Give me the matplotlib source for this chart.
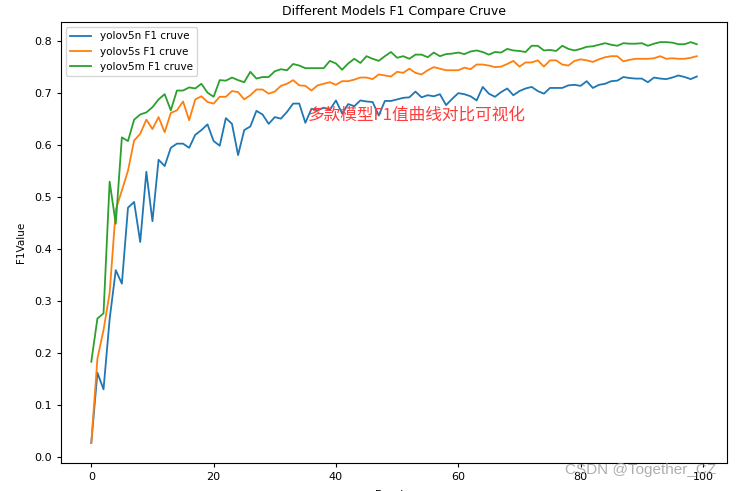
import matplotlib.pyplot as plt
import numpy as np

### DATA

epochs = list(range(100))

yolov5n_f1 = [0.027, 0.162, 0.130, 0.265, 0.359, 0.333, 0.479, 0.490, 0.413, 0.548,
              0.453, 0.571, 0.559, 0.594, 0.602, 0.602, 0.594, 0.619, 0.628, 0.639,
              0.607, 0.598, 0.651, 0.640, 0.580, 0.628, 0.635, 0.665, 0.658, 0.640,
              0.653, 0.650, 0.663, 0.679, 0.679, 0.642, 0.669, 0.666, 0.671, 0.667,
              0.685, 0.660, 0.678, 0.674, 0.685, 0.683, 0.682, 0.656, 0.684, 0.684,
              0.687, 0.690, 0.691, 0.702, 0.691, 0.695, 0.693, 0.697, 0.676, 0.688,
              0.699, 0.697, 0.693, 0.685, 0.711, 0.698, 0.692, 0.701, 0.708, 0.695,
              0.703, 0.708, 0.711, 0.703, 0.698, 0.709, 0.709, 0.709, 0.714, 0.715,
              0.713, 0.722, 0.709, 0.715, 0.717, 0.722, 0.723, 0.730, 0.728, 0.727,
              0.727, 0.720, 0.729, 0.727, 0.726, 0.729, 0.733, 0.730, 0.726, 0.731]

yolov5s_f1 = [0.027, 0.189, 0.244, 0.315, 0.475, 0.512, 0.550, 0.608, 0.621, 0.648,
              0.630, 0.653, 0.624, 0.661, 0.666, 0.683, 0.647, 0.687, 0.693, 0.682,
              0.679, 0.692, 0.692, 0.703, 0.701, 0.687, 0.695, 0.706, 0.706, 0.698,
              0.702, 0.713, 0.717, 0.724, 0.714, 0.713, 0.704, 0.714, 0.717, 0.720,
              0.715, 0.722, 0.722, 0.725, 0.729, 0.729, 0.726, 0.735, 0.733, 0.731,
              0.740, 0.738, 0.746, 0.738, 0.735, 0.743, 0.749, 0.746, 0.743, 0.743,
              0.743, 0.748, 0.745, 0.754, 0.754, 0.752, 0.749, 0.750, 0.755, 0.761,
              0.750, 0.758, 0.758, 0.762, 0.750, 0.762, 0.762, 0.754, 0.752, 0.761,
              0.764, 0.762, 0.759, 0.764, 0.768, 0.770, 0.770, 0.760, 0.763, 0.765,
              0.765, 0.765, 0.766, 0.770, 0.765, 0.766, 0.765, 0.765, 0.767, 0.770]

yolov5m_f1 = [0.183, 0.266, 0.276, 0.529, 0.448, 0.614, 0.607, 0.648, 0.658, 0.662,
              0.672, 0.687, 0.697, 0.666, 0.704, 0.704, 0.710, 0.708, 0.717, 0.700,
              0.692, 0.724, 0.723, 0.729, 0.724, 0.720, 0.740, 0.727, 0.730, 0.730,
              0.741, 0.745, 0.743, 0.755, 0.752, 0.747, 0.747, 0.747, 0.747, 0.761,
              0.756, 0.744, 0.756, 0.765, 0.757, 0.770, 0.765, 0.761, 0.770, 0.778,
              0.767, 0.770, 0.765, 0.773, 0.773, 0.768, 0.777, 0.770, 0.774, 0.775,
              0.777, 0.774, 0.779, 0.781, 0.778, 0.773, 0.778, 0.777, 0.784, 0.781,
              0.780, 0.778, 0.790, 0.790, 0.781, 0.782, 0.780, 0.790, 0.784, 0.781,
              0.784, 0.788, 0.789, 0.792, 0.795, 0.792, 0.790, 0.795, 0.794, 0.794,
              0.795, 0.790, 0.794, 0.797, 0.797, 0.796, 0.793, 0.793, 0.797, 0.793]

series_labels = ["yolov5n F1 cruve", "yolov5s F1 cruve", "yolov5m F1 cruve"]

### PLOTTING

plt.rcParams['font.family'] = ['DejaVu Sans', 'Noto Sans CJK SC']

fig = plt.figure(figsize=(7.36, 4.91), dpi=100)
ax = fig.add_axes([0.0829, 0.057, 0.905, 0.898])

for values, label in zip([yolov5n_f1, yolov5s_f1, yolov5m_f1], series_labels):
    ax.plot(epochs, values, label=label, linewidth=1.3)

ax.set_xticks([0, 20, 40, 60, 80, 100])
ax.set_yticks(np.arange(0, 0.81, 0.1))
ax.tick_params(labelsize=8, length=3)
ax.set_title("Different Models F1 Compare Cruve", fontsize=9, pad=5)
ax.set_xlabel("Epochs", fontsize=7.5, labelpad=6)
ax.set_ylabel("F1Value", fontsize=7.5, labelpad=6)
ax.legend(loc="upper left", fontsize=7.5)

# red caption drawn over the plot
fig.text(0.418, 0.766, "多款模型F1值曲线对比可视化", color="#ff3b3b", fontsize=12,
         va="center", family=['Noto Sans CJK SC', 'DejaVu Sans'])

# site watermark
fig.text(0.768, 0.042, "CSDN @Together_CZ", color="#9a9a9a", fontsize=11,
         va="center", alpha=0.8, family=['Liberation Sans', 'DejaVu Sans'])

fig.savefig("out.png", dpi=100)
